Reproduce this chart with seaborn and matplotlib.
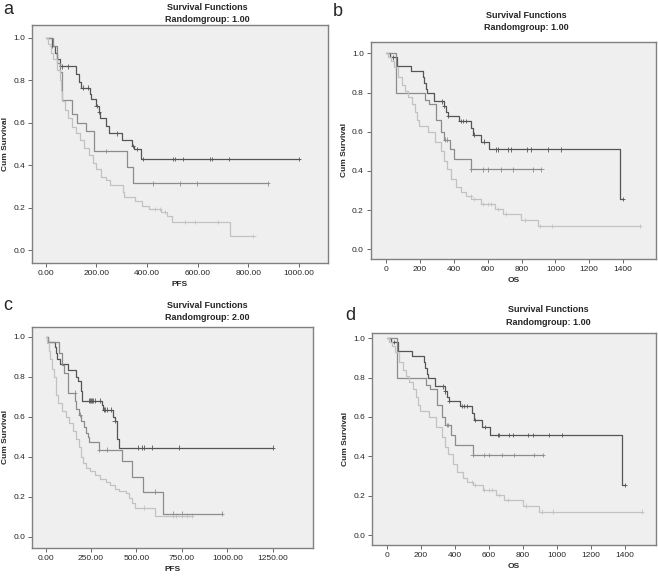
import numpy as np
import pandas as pd
import seaborn as sb
import matplotlib
matplotlib.use('Agg')
import matplotlib.pyplot as plt
from matplotlib.ticker import FormatStrFormatter

# panel a: PFS, Randomgroup 1.00
a_dark_t = [0, 25, 35, 45, 55, 120, 130, 140, 175, 180, 200, 210, 215, 240, 250, 300, 340, 350, 375, 1000]
a_dark_s = [1.0, 0.96, 0.93, 0.90, 0.865, 0.83, 0.79, 0.765, 0.735, 0.71, 0.68, 0.65, 0.62, 0.585, 0.55, 0.52, 0.49, 0.476, 0.43, 0.43]
a_dark_c = [25, 63, 90, 146, 168, 201, 210, 283, 346, 359, 385, 504, 509, 541, 649, 658, 725, 1000]
a_mid_t = [0, 30, 45, 55, 64, 103, 125, 159, 191, 320, 343, 879]
a_mid_s = [1.0, 0.96, 0.88, 0.84, 0.706, 0.64, 0.60, 0.562, 0.468, 0.39, 0.314, 0.314]
a_mid_c = [240, 422, 530, 599, 879]
a_light_t = [0, 10, 20, 30, 45, 55, 60, 65, 75, 90, 105, 120, 135, 150, 170, 185, 200, 220, 240, 255,
             304, 310, 353, 380, 410, 455, 480, 497, 728, 820]
a_light_s = [1.0, 0.97, 0.93, 0.90, 0.85, 0.80, 0.75, 0.70, 0.66, 0.62, 0.58, 0.55, 0.52, 0.48, 0.45, 0.41,
             0.38, 0.345, 0.33, 0.306, 0.275, 0.25, 0.23, 0.21, 0.195, 0.18, 0.16, 0.133, 0.066, 0.066]
a_light_c = [430, 450, 470, 550, 590, 680, 820]

# panel b / d: OS, Randomgroup 1.00
b_dark_t = [0, 20, 65, 148, 217, 225, 232, 240, 282, 340, 355, 365, 430, 500, 513, 560, 605, 1384, 1400]
b_dark_s = [1.0, 0.98, 0.935, 0.91, 0.88, 0.85, 0.82, 0.80, 0.755, 0.73, 0.70, 0.68, 0.655, 0.62, 0.585, 0.55, 0.51, 0.255, 0.255]
b_dark_c = [40, 330, 340, 365, 440, 455, 470, 520, 575, 651, 661, 720, 740, 830, 858, 956, 1031, 1400]
b_mid_t = [0, 60, 227, 250, 296, 325, 341, 375, 400, 503, 917]
b_mid_s = [1.0, 0.80, 0.76, 0.74, 0.66, 0.60, 0.56, 0.51, 0.46, 0.408, 0.408]
b_mid_c = [350, 360, 503, 572, 601, 676, 749, 868, 917]
b_light_t = [0, 10, 30, 45, 70, 95, 108, 130, 150, 170, 180, 195, 246, 286, 321, 341, 361, 385, 414, 444,
             473, 503, 562, 641, 690, 799, 897, 1500]
b_light_s = [1.0, 0.98, 0.96, 0.93, 0.88, 0.84, 0.81, 0.78, 0.74, 0.70, 0.66, 0.63, 0.60, 0.55, 0.50, 0.45,
             0.41, 0.36, 0.32, 0.29, 0.27, 0.255, 0.23, 0.205, 0.18, 0.15, 0.12, 0.12]
b_light_c = [500, 520, 570, 600, 620, 660, 710, 820, 910, 980, 1500]

# panel c: PFS, Randomgroup 2.00
c_dark_t = [0, 15, 51, 60, 65, 80, 125, 167, 180, 195, 202, 308, 315, 373, 380, 391, 395, 405, 1250]
c_dark_s = [1.0, 0.975, 0.95, 0.92, 0.89, 0.865, 0.835, 0.80, 0.78, 0.73, 0.68, 0.66, 0.635, 0.60, 0.58, 0.53, 0.49, 0.445, 0.445]
c_dark_c = [240, 245, 250, 255, 260, 270, 300, 320, 325, 340, 360, 380, 510, 528, 541, 584, 734, 1250]
c_mid_t = [0, 15, 75, 88, 103, 125, 161, 165, 185, 195, 210, 220, 232, 240, 293, 418, 474, 538, 644, 969]
c_mid_s = [1.0, 0.975, 0.92, 0.86, 0.82, 0.72, 0.68, 0.64, 0.61, 0.58, 0.55, 0.52, 0.50, 0.475, 0.435, 0.38, 0.30, 0.225, 0.115, 0.115]
c_mid_c = [160, 190, 293, 340, 600, 700, 750, 969]
c_light_t = [0, 10, 20, 25, 35, 45, 55, 60, 70, 90, 110, 130, 150, 170, 185, 195, 205, 220, 245, 270,
             300, 330, 355, 380, 405, 445, 460, 475, 490, 602, 804]
c_light_s = [1.0, 0.97, 0.93, 0.89, 0.84, 0.80, 0.75, 0.71, 0.67, 0.63, 0.60, 0.57, 0.53, 0.49, 0.45, 0.40,
             0.37, 0.345, 0.33, 0.31, 0.29, 0.275, 0.26, 0.24, 0.23, 0.22, 0.195, 0.17, 0.145, 0.105, 0.105]
c_light_c = [540, 700, 720, 750, 780, 804]

line_colors = {'dark': '#555555', 'mid': '#8c8c8c', 'light': '#c2c2c2'}

sb.set_style('ticks')
plt.rcParams['font.family'] = ['Liberation Sans', 'DejaVu Sans']


def surv_at(times, surv, x):
    # value of the step curve at time x
    idx = np.searchsorted(times, x, side='right') - 1
    return surv[max(idx, 0)]


def km_panel(ax, curves, xlim, ylim, xticks, xfmt, xlabel):
    rows = []
    cens = []
    for name, (t, s, c) in curves.items():
        for ti, si in zip(t, s):
            rows.append({'time': ti, 'surv': si, 'curve': name})
        for ci in c:
            cens.append({'time': ci, 'surv': surv_at(t, s, ci), 'curve': name})
    df = pd.DataFrame(rows)
    cdf = pd.DataFrame(cens)
    sb.lineplot(data=df, x='time', y='surv', hue='curve', palette=line_colors, estimator=None,
                sort=False, drawstyle='steps-post', linewidth=0.9, legend=False, ax=ax)
    sb.scatterplot(data=cdf, x='time', y='surv', hue='curve', palette=line_colors, marker='+',
                   s=10, linewidth=0.6, legend=False, ax=ax)
    ax.set_facecolor('#efefef')
    ax.set_xlim(*xlim)
    ax.set_ylim(*ylim)
    ax.set_xticks(xticks)
    ax.set_yticks([0, 0.2, 0.4, 0.6, 0.8, 1.0])
    ax.xaxis.set_major_formatter(FormatStrFormatter(xfmt))
    ax.yaxis.set_major_formatter(FormatStrFormatter('%.1f'))
    ax.tick_params(labelsize=6, length=3, width=0.7, color='#666666', pad=2)
    for sp in ax.spines.values():
        sp.set_visible(True)
        sp.set_color('#808080')
        sp.set_linewidth(1.0)
    ax.set_xlabel(xlabel, fontsize=6, fontweight='bold', labelpad=3)
    ax.set_ylabel('Cum Survival', fontsize=6, fontweight='bold', labelpad=3)


fig = plt.figure(figsize=(6.58, 5.79), dpi=100)

ax_a = fig.add_axes([0.0486, 0.5458, 0.4499, 0.4111])
ax_b = fig.add_axes([0.5634, 0.5527, 0.4336, 0.3753])
ax_c = fig.add_axes([0.0491, 0.0541, 0.4266, 0.3817])
ax_d = fig.add_axes([0.5658, 0.0587, 0.4312, 0.3657])

curves_a = {'dark': (a_dark_t, a_dark_s, a_dark_c), 'mid': (a_mid_t, a_mid_s, a_mid_c),
            'light': (a_light_t, a_light_s, a_light_c)}
curves_b = {'dark': (b_dark_t, b_dark_s, b_dark_c), 'mid': (b_mid_t, b_mid_s, b_mid_c),
            'light': (b_light_t, b_light_s, b_light_c)}
curves_c = {'dark': (c_dark_t, c_dark_s, c_dark_c), 'mid': (c_mid_t, c_mid_s, c_mid_c),
            'light': (c_light_t, c_light_s, c_light_c)}

km_panel(ax_a, curves_a, (-54, 1115), (-0.06, 1.06), [0, 200, 400, 600, 800, 1000], '%.2f', 'PFS')
km_panel(ax_b, curves_b, (-92, 1595), (-0.05, 1.06), [0, 200, 400, 600, 800, 1000, 1200, 1400], '%d', 'OS')
km_panel(ax_c, curves_c, (-73, 1471), (-0.055, 1.05), [0, 250, 500, 750, 1000, 1250], '%.2f', 'PFS')
km_panel(ax_d, curves_b, (-88, 1585), (-0.05, 1.025), [0, 200, 400, 600, 800, 1000, 1200, 1400], '%d', 'OS')

# titles (centred over the original spss chart, not the axes)
titles = [(207, 7, 19, '1.00'), (526, 15, 28, '1.00'), (207, 306, 318, '2.00'), (548, 309, 322, '1.00')]
for x, y1, y2, grp in titles:
    fig.text(x / 658, 1 - y1 / 579, 'Survival Functions', ha='center', va='center', fontsize=6.5, fontweight='bold')
    fig.text(x / 658, 1 - y2 / 579, 'Randomgroup: ' + grp, ha='center', va='center', fontsize=6.5, fontweight='bold')

letters = [('a', 8, 9), ('b', 338, 12), ('c', 8, 306), ('d', 350, 315)]
for lt, x, y in letters:
    fig.text(x / 658, 1 - y / 579, lt, ha='center', va='center', fontsize=13)

plt.savefig('out.png', dpi=100)
